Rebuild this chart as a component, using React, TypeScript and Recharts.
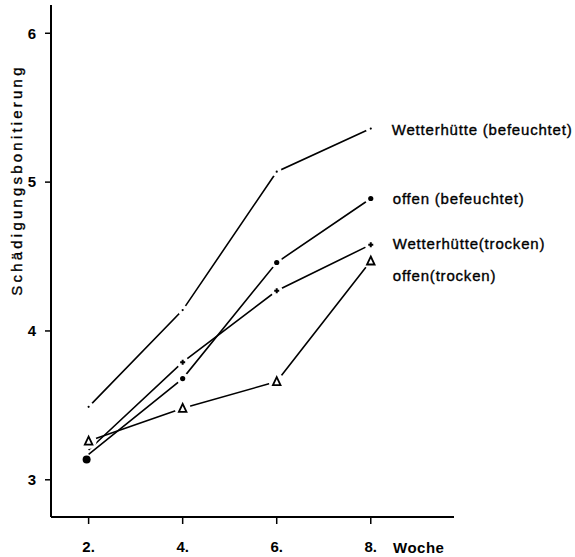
import React from 'react';
import { LineChart, Line, XAxis, YAxis, LabelList } from 'recharts';

const weeks = [2, 4, 6, 8];
const wetterBefeuchtet = [3.49, 4.14, 5.07, 5.36];
const offenBefeuchtet = [3.17, 3.68, 4.46, 4.89];
const wetterTrocken = [3.2, 3.79, 4.27, 4.58];
const offenTrocken = [3.26, 3.48, 3.66, 4.47];
const seriesNames = [
  'Wetterhütte (befeuchtet)',
  'offen (befeuchtet)',
  'Wetterhütte(trocken)',
  'offen(trocken)',
];
const yTicks = [3, 4, 5, 6];
const xTicks = [2, 4, 6, 8];

const data = weeks.map((w, i) => ({
  week: w,
  wb: wetterBefeuchtet[i],
  ob: offenBefeuchtet[i],
  wt: wetterTrocken[i],
  ot: offenTrocken[i],
}));

const FONT = '"Liberation Sans", Arial, sans-serif';

const gap = (cx: number, cy: number, r: number) => <circle cx={cx} cy={cy} r={r} fill="#ffffff" fillOpacity={1} stroke="none" />;

const DotTiny = (p: any) => (
  <g key={`wb-${p.index}`}>
    {gap(p.cx, p.cy, 5)}
    <circle cx={p.cx} cy={p.cy} r={1.1} fill="#000" />
  </g>
);
const DotFilled = (p: any) => (
  <g key={`ob-${p.index}`}>
    {p.index === 0 ? (
      <circle cx={p.cx - 2} cy={p.cy + 5} r={4} fill="#000" />
    ) : (
      <>
        {gap(p.cx, p.cy, 6)}
        <circle cx={p.cx} cy={p.cy} r={2.6} fill="#000" />
      </>
    )}
  </g>
);
const DotPlus = (p: any) =>
  p.index === 0 ? (
    <g key={`wt-${p.index}`} />
  ) : (
    <g key={`wt-${p.index}`}>
      {gap(p.cx, p.cy, 6)}
      <path d={`M${p.cx - 2.5},${p.cy}L${p.cx + 2.5},${p.cy}M${p.cx},${p.cy - 2.5}L${p.cx},${p.cy + 2.5}`} stroke="#000" strokeWidth={2} />
    </g>
  );
const DotTriangle = (p: any) => (
  <g key={`ot-${p.index}`}>
    {gap(p.cx, p.cy, 8)}
    <path d={`M${p.cx},${p.cy - 4.5}L${p.cx + 3.8},${p.cy + 3.5}L${p.cx - 3.8},${p.cy + 3.5}Z`} fill="none" stroke="#000" strokeWidth={1.8} />
  </g>
);

const makeLabel = (name: string, dy: number, dx: number) => (props: any) => {
  if (props.index !== weeks.length - 1) return null;
  return (
    <text x={props.x + dx} y={props.y + dy} dy="0.35em" fontFamily={FONT} fontSize={15} fill="#000" stroke="#000" strokeWidth={0.35} letterSpacing={0.8}>
      {name}
    </text>
  );
};

export default function App() {
  return (
    <div style={{ position: 'absolute', left: 0, top: 0, width: 575, height: 557, background: '#fff' }}>
      <LineChart width={575} height={557} data={data} margin={{ top: 5, right: 121, left: 0, bottom: 0 }}>
        <XAxis
          dataKey="week"
          type="number"
          domain={[1.2, 9.77]}
          ticks={xTicks}
          tickFormatter={(v: number) => `${v}.`}
          height={40}
          axisLine={{ stroke: '#000', strokeWidth: 2 }}
          tickLine={{ stroke: '#000', strokeWidth: 1.5 }}
          tickSize={7}
          tickMargin={17}
          tick={{ fill: '#000', fontSize: 15, fontWeight: 'bold', fontFamily: FONT }}
          label={(props: any) => (
            <text x={393} y={548} dy="0.35em" fontFamily={FONT} fontSize={15} fontWeight="bold" fill="#000" letterSpacing={0.5}>
              Woche
            </text>
          )}
        />
        <YAxis
          type="number"
          domain={[2.75, 6.19]}
          ticks={yTicks}
          width={51}
          axisLine={{ stroke: '#000', strokeWidth: 2 }}
          tickLine={{ stroke: '#000', strokeWidth: 1.5 }}
          tickSize={6}
          tickMargin={9}
          tick={{ fill: '#000', fontSize: 15, fontWeight: 'bold', fontFamily: FONT }}
          label={(props: any) => (
            <text x={17} y={180} transform="rotate(-90 17 180)" textAnchor="middle" dy="0.35em" fontFamily={FONT} fontSize={15} fill="#000" stroke="#000" strokeWidth={0.35} letterSpacing={3.2}>
              Schädigungsbonitierung
            </text>
          )}
        />
        <Line dataKey="wb" stroke="#000" strokeWidth={1.6} dot={DotTiny} isAnimationActive={false}>
          <LabelList content={makeLabel(seriesNames[0], 1, 21)} />
        </Line>
        <Line dataKey="ob" stroke="#000" strokeWidth={1.6} dot={DotFilled} isAnimationActive={false}>
          <LabelList content={makeLabel(seriesNames[1], 0, 22)} />
        </Line>
        <Line dataKey="wt" stroke="#000" strokeWidth={1.6} dot={DotPlus} isAnimationActive={false}>
          <LabelList content={makeLabel(seriesNames[2], -1, 22)} />
        </Line>
        <Line dataKey="ot" stroke="#000" strokeWidth={1.6} dot={DotTriangle} isAnimationActive={false}>
          <LabelList content={makeLabel(seriesNames[3], 15, 22)} />
        </Line>
      </LineChart>
    </div>
  );
}
